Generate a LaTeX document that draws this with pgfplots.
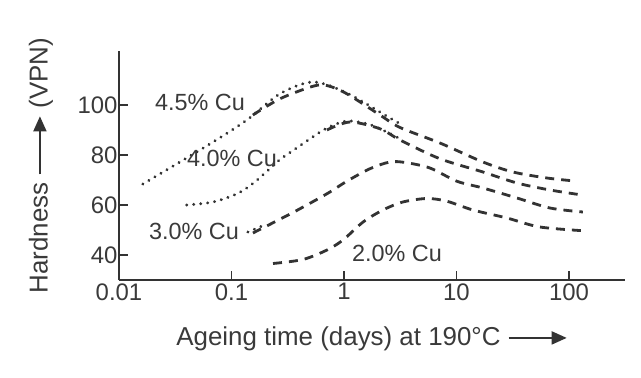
\documentclass[border=0pt]{standalone}
\usepackage{fontspec}
\setmainfont{Liberation Sans}
\usepackage{pgfplots}
\pgfplotsset{compat=1.18}
\usetikzlibrary{arrows.meta}
\definecolor{ink}{HTML}{333333}
\definecolor{txt}{HTML}{3A3A3A}
\newcommand{\longarrow}{\tikz[baseline={(0,-0.3em)}]\draw[ink,line width=1.8bp,-{Triangle[length=15bp,width=13bp]}] (0,0)--(58bp,0);}
\begin{document}
\begin{tikzpicture}
\path[use as bounding box] (-119bp,-98bp) rectangle (522bp,280bp);
\begin{axis}[
  at={(0,0)}, anchor=south west,
  scale only axis, width=506bp, height=229bp,
  xmode=log, log basis x=10,
  xmin=0.01, xmax=315, ymin=30, ymax=121.6,
  axis x line=bottom, axis y line=left,
  axis line style={-, line width=1.4bp, ink},
  xtick={0.01,0.1,1,10,100}, xticklabels={0.01,0.1,1,10,100},
  xminorticks=false,
  ytick={40,60,80,100},
  tick align=inside, major tick length=9bp,
  tick style={line width=1.4bp, ink},
  /pgf/number format/assume math mode=true,
  ticklabel style={font=\fontsize{24}{28}\selectfont, text=txt},
  yticklabel style={xshift=2bp},
  label style={font=\fontsize{26}{30}\selectfont, text=txt},
  xlabel={Ageing time (days) at 190°C \longarrow},
  ylabel={Hardness \longarrow\ (VPN)},
  xlabel style={at={([yshift=-59bp]axis description cs:0.5,0)}, anchor=center},
  ylabel style={at={([xshift=-78bp]axis description cs:0,0.5)}, anchor=center},
  clip=false,
  every axis plot/.append style={ink, line width=2.8bp},
]
% 4.5% Cu dotted
\addplot[smooth, line cap=round, dash pattern=on 0.01bp off 7bp, line width=3.2bp] coordinates {
(0.0163,68.4) (0.0348,77.2) (0.0686,85.2) (0.137,94) (0.27,104.5) (0.53,109.2) (1.06,104.8) (2.56,94.8) (3.15,92.5)};
% 4.5% Cu dashed
\addplot[smooth, dash pattern=on 9bp off 7bp] coordinates {
(0.155,96) (0.27,102.5) (0.53,107.5) (0.706,107.8) (1.06,104.5) (2.09,96) (3.15,91) (7.13,84.8) (17.2,77.2) (31.8,73.2) (63.7,70.8) (113,69.6)};
% 4.0% Cu dotted
\addplot[smooth, line cap=round, dash pattern=on 0.01bp off 7bp, line width=3.2bp] coordinates {
(0.040,60) (0.0686,61.2) (0.112,64.5) (0.155,68.6) (0.22,74.6) (0.27,78.2) (0.352,81.8) (0.5,86.5) (0.706,90.8) (1.06,93.6) (1.6,92.5) (2.09,90.5) (3.15,86.5)};
% 4.0% Cu dashed
\addplot[smooth, dash pattern=on 9bp off 7bp] coordinates {
(0.706,90) (1.13,93.2) (2.09,90.5) (3.15,86) (7.13,78.5) (17.2,73.2) (34.5,68.8) (67.8,66) (131,64)};
% 3.0% Cu dotted
\addplot[smooth, line cap=round, dash pattern=on 0.01bp off 7bp, line width=3.2bp] coordinates {
(0.140,49.2) (0.187,51.6)};
% 3.0% Cu dashed
\addplot[smooth, dash pattern=on 9bp off 7bp] coordinates {
(0.155,48.8) (0.352,57) (0.706,64.5) (1.06,69.5) (1.7,74.5) (2.56,77.2) (3.5,77) (5.81,74.8) (10.1,69.5) (17.2,66.8) (34.5,62.8) (67.8,58.8) (133,57.2)};
% 2.0% Cu dashed
\addplot[smooth, dash pattern=on 9bp off 7bp] coordinates {
(0.234,36.6) (0.432,38.2) (0.706,42) (0.98,46) (1.48,53.2) (2.22,58) (3.34,61.2) (5.47,62.6) (8.24,61.5) (14.0,58) (28.1,54.8) (55.2,51.2) (145,49.6)};
\begin{scope}[every node/.style={font=\fontsize{23.5}{28}\selectfont, text=txt, fill=none}]
\node at (axis cs:0.0525,101.2) {4.5\% Cu};
\node at (axis cs:0.101,78.8) {4.0\% Cu};
\node at (axis cs:0.0464,49.6) {3.0\% Cu};
\node at (axis cs:2.96,40.8) {2.0\% Cu};
\end{scope}
\end{axis}
\end{tikzpicture}
\end{document}
